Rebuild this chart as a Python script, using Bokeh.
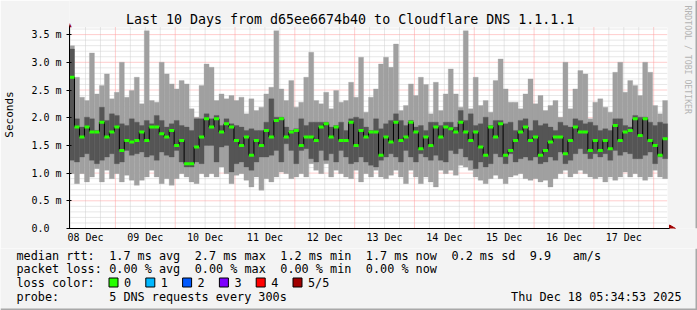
import math
from bokeh.plotting import figure
from bokeh.models import Range1d, FixedTicker, Label
from bokeh.layouts import column
from bokeh.embed import file_html
from bokeh.resources import INLINE
from bokeh.core.properties import value

MONO = "DejaVu Sans Mono"

# ---------------- data ----------------
# time axis in days since 08 Dec 00:00 ; graph covers 08 Dec 05:35 .. 18 Dec 05:35
t_start = 0.2325
t_end = 10.2325
bin_days = 2.0 / 24.0          # one smoke column = 2 hours
day_labels = ["08 Dec", "09 Dec", "10 Dec", "11 Dec", "12 Dec",
              "13 Dec", "14 Dec", "15 Dec", "16 Dec", "17 Dec"]
label_days = [0.5, 1.5, 2.5, 3.5, 4.5, 5.5, 6.5, 7.5, 8.5, 9.5]
midnight_days = [1, 2, 3, 4, 5, 6, 7, 8, 9, 10]

y_ticks = [0.0, 0.5, 1.0, 1.5, 2.0, 2.5, 3.0, 3.5]
y_tick_labels = ["0.0\u00a0\u00a0", "0.5 m", "1.0 m", "1.5 m", "2.0 m", "2.5 m", "3.0 m", "3.5 m"]

# RTT in ms per 2h column: max ping, upper inner ping, lower inner ping, min ping, median
rtt_max = [
    3.30, 2.73, 2.37, 2.31, 3.17, 2.43, 2.58, 2.79, 2.34, 2.46, 3.00, 2.37, 2.49, 2.73, 2.25, 3.57, 2.31, 2.28, 3.00, 2.79, 2.61, 2.52, 2.67, 2.61,
    2.16, 2.01, 2.58, 2.97, 2.91, 2.31, 2.43, 2.34, 2.40, 2.31, 2.37, 2.07, 2.34, 2.13, 2.19, 2.43, 2.55, 3.57, 2.52, 2.31, 2.67, 2.19, 2.28, 2.73,
    3.18, 2.31, 2.25, 2.46, 2.16, 2.49, 2.28, 2.31, 2.64, 2.37, 3.09, 2.10, 2.37, 2.52, 2.97, 3.09, 2.91, 3.33, 2.13, 2.22, 2.61, 2.40, 2.73, 2.60,
    2.07, 2.64, 2.13, 2.43, 2.88, 2.43, 2.19, 3.57, 2.16, 2.73, 2.22, 2.31, 2.10, 2.67, 3.06, 2.52, 2.28, 2.28, 2.16, 2.43, 2.70, 2.25, 2.40, 2.13,
    2.22, 2.31, 2.01, 3.00, 2.16, 2.52, 2.85, 2.79, 1.98, 2.28, 2.34, 2.19, 2.10, 2.82, 3.00, 2.46, 2.67, 2.58, 2.40, 3.00, 2.82, 2.22, 2.07, 2.31,
]
rtt_upper = [
    3.24, 1.98, 1.83, 2.01, 1.98, 1.77, 2.19, 1.95, 2.07, 2.04, 1.89, 1.86, 1.98, 1.92, 1.86, 1.95, 1.89, 2.04, 1.95, 1.83, 1.89, 1.95, 1.86, 1.83,
    1.77, 1.98, 1.98, 2.07, 1.98, 2.04, 1.86, 1.98, 1.89, 1.86, 1.83, 1.77, 1.80, 1.77, 1.77, 1.92, 2.34, 2.01, 2.01, 1.83, 1.77, 1.80, 1.98, 1.86,
    1.92, 1.92, 1.92, 1.92, 1.83, 1.86, 1.92, 1.77, 1.98, 2.01, 1.98, 1.83, 1.77, 1.98, 1.80, 1.89, 1.95, 2.07, 1.95, 1.86, 1.95, 1.83, 1.86, 1.77,
    1.92, 1.92, 1.86, 1.92, 1.92, 1.83, 2.13, 1.95, 2.07, 1.86, 1.89, 2.01, 1.86, 1.95, 1.95, 1.89, 1.92, 1.77, 1.95, 1.98, 1.77, 1.95, 1.86, 1.89,
    1.83, 1.77, 1.92, 1.86, 1.83, 1.98, 1.95, 1.89, 1.92, 1.86, 1.77, 1.80, 1.77, 1.98, 1.98, 1.86, 1.83, 2.04, 2.01, 2.01, 1.92, 1.86, 1.92, 1.89,
]
rtt_lower = [
    1.23, 1.20, 1.29, 1.35, 1.23, 1.17, 1.23, 1.29, 1.35, 1.17, 1.20, 1.41, 1.32, 1.35, 1.38, 1.29, 1.32, 1.23, 1.38, 1.32, 1.29, 1.41, 1.20, 1.11,
    1.11, 1.20, 1.17, 1.50, 1.50, 1.20, 1.47, 1.50, 1.02, 1.17, 1.20, 1.11, 1.05, 1.20, 1.29, 1.29, 1.32, 1.41, 1.20, 1.53, 1.41, 1.17, 1.41, 1.44,
    1.26, 1.20, 1.41, 1.23, 1.35, 1.20, 1.41, 1.29, 1.17, 1.20, 1.29, 1.20, 1.14, 1.11, 1.23, 1.29, 1.35, 1.29, 1.20, 1.41, 1.29, 1.20, 1.35, 1.29,
    1.23, 1.32, 1.23, 1.20, 1.41, 1.35, 1.44, 1.29, 1.23, 1.08, 1.20, 1.11, 1.17, 1.35, 1.29, 1.17, 1.35, 1.20, 1.26, 1.29, 1.23, 1.29, 1.17, 1.20,
    1.29, 1.23, 1.38, 1.17, 1.23, 1.35, 1.44, 1.35, 1.26, 1.35, 1.29, 1.35, 1.23, 1.41, 1.32, 1.38, 1.35, 1.26, 1.26, 1.32, 1.38, 1.17, 1.29, 1.26,
]
rtt_min = [
    0.99, 0.81, 0.99, 0.84, 0.93, 1.08, 0.84, 1.05, 0.90, 0.99, 0.84, 0.96, 0.87, 0.78, 0.87, 0.93, 1.05, 0.93, 0.81, 0.90, 0.78, 0.90, 0.99, 0.93,
    0.84, 0.81, 0.99, 0.93, 0.99, 0.93, 1.11, 0.99, 0.81, 0.96, 0.99, 0.87, 0.75, 0.93, 0.69, 0.90, 0.84, 0.93, 1.02, 0.99, 0.90, 0.93, 0.99, 0.93,
    1.17, 1.05, 0.99, 1.17, 0.93, 1.05, 0.99, 0.93, 0.90, 1.05, 0.84, 0.99, 0.93, 1.05, 0.93, 0.90, 0.96, 1.05, 0.93, 0.81, 1.05, 0.93, 0.81, 0.93,
    0.84, 0.75, 1.05, 0.99, 1.05, 0.96, 1.14, 1.11, 1.05, 0.93, 0.87, 0.81, 0.90, 0.96, 0.90, 0.81, 0.93, 0.96, 0.99, 0.90, 0.87, 0.90, 0.84, 0.87,
    0.75, 0.90, 0.99, 1.05, 0.93, 0.99, 1.05, 0.99, 0.93, 0.90, 0.93, 0.84, 0.93, 0.87, 0.93, 1.02, 0.93, 0.99, 0.93, 0.87, 0.93, 1.05, 0.93, 0.90,
]
rtt_median = [
    2.73, 1.83, 1.65, 1.83, 1.74, 1.74, 1.92, 1.65, 1.74, 1.83, 1.41, 1.59, 1.56, 1.59, 1.74, 1.59, 1.83, 1.83, 1.71, 1.65, 1.77, 1.50, 1.59, 1.17,
    1.17, 1.47, 1.65, 1.98, 1.83, 1.98, 1.74, 1.89, 1.83, 1.59, 1.50, 1.65, 1.32, 1.59, 1.50, 1.77, 1.65, 1.95, 1.98, 1.65, 1.74, 1.77, 1.50, 1.65,
    1.65, 1.59, 1.83, 1.89, 1.65, 1.83, 1.59, 1.59, 1.92, 1.50, 1.77, 1.65, 1.74, 1.74, 1.32, 1.65, 1.56, 1.92, 1.59, 1.65, 1.92, 1.74, 1.44, 1.65,
    1.50, 1.83, 1.65, 1.83, 1.80, 1.74, 1.92, 1.74, 1.59, 1.74, 1.47, 1.32, 1.83, 1.65, 1.89, 1.32, 1.41, 1.59, 1.74, 1.83, 1.59, 1.65, 1.32, 1.41,
    1.56, 1.65, 1.65, 1.35, 1.59, 1.83, 1.74, 1.74, 1.41, 1.59, 1.41, 1.59, 1.44, 1.86, 1.59, 1.74, 1.77, 1.98, 1.68, 1.98, 1.59, 1.50, 1.32, 1.62,
]

title_text = "Last 10 Days from d65ee6674b40 to Cloudflare DNS 1.1.1.1"
credit_text = "RRDTOOL / TOBI OETIKER"
rtt_stats = ["1.7 ms avg", "2.7 ms max", "1.2 ms min", "1.7 ms now", "0.2 ms sd", "9.9", "am/s"]
rtt_cols = [13, 25, 37, 49, 61, 72, 78]
loss_stats = ["0.00 % avg", "0.00 % max", "0.00 % min", "0.00 % now"]
loss_cols = [13, 25, 37, 49]
loss_colors = ["#26ff00", "#00b8ff", "#0059ff", "#7e00ff", "#ff0000", "#a10000"]
loss_labels = ["0", "1", "2", "3", "4", "5/5"]
probe_text = "5 DNS requests every 300s"
stamp_text = "Thu Dec 18 05:34:53 2025"

# ---------------- layout constants ----------------
W, H1, H2 = 697, 248, 62
PLOT_L, PLOT_B, PLOT_TOP_PX = 67, 228, 27
PX_DAY = 60.0
PX_MS = 55.4
BG = "#f3f3f3"


def dx(px):
    return t_start + (px - PLOT_L) / PX_DAY


def dy(py):
    return (PLOT_B - py) / PX_MS


plot_top = dy(PLOT_TOP_PX)

p = figure(width=W, height=H1,
           x_range=Range1d(t_start, dx(W)), y_range=Range1d(0, dy(0)),
           output_backend="svg", toolbar_location=None, tools="",
           min_border=0, min_border_left=PLOT_L, min_border_bottom=H1 - PLOT_B,
           background_fill_color=BG, border_fill_color=BG, outline_line_color=None)
p.xgrid.visible = False
p.ygrid.visible = False

# plot area
p.quad(left=[t_start], right=[t_end], bottom=[0], top=[plot_top], fill_color="white", line_color=None)

# grid
minor_h = [k / 10 for k in range(1, 37) if k % 5]
major_h = [k / 10 for k in range(5, 36, 5)]
minor_v = [q / 4 for q in range(1, 42) if q % 4 and t_start < q / 4 < t_end]
p.segment(x0=[t_start] * len(minor_h), y0=minor_h, x1=[t_end] * len(minor_h), y1=minor_h,
          line_color="#cfcfcf", line_dash="1 1", line_width=1)
p.segment(x0=minor_v, y0=[0] * len(minor_v), x1=minor_v, y1=[plot_top] * len(minor_v),
          line_color="#cfcfcf", line_dash="1 1", line_width=1)
p.segment(x0=[t_start] * len(major_h), y0=major_h, x1=[t_end] * len(major_h), y1=major_h,
          line_color="#ff9c9c", line_dash="1 1", line_width=1)
p.segment(x0=midnight_days, y0=[0] * len(midnight_days), x1=midnight_days, y1=[plot_top] * len(midnight_days),
          line_color="#ff9c9c", line_dash="1 1", line_width=1)

# smoke
n = len(rtt_median)
left = [t_start + i * bin_days for i in range(n)]
right = [l + bin_days for l in left]
p.quad(left=left, right=right, bottom=rtt_min, top=rtt_max,
       fill_color="#a0a0a0", line_color="#a0a0a0", line_width=0.3)
p.quad(left=left, right=right, bottom=rtt_lower, top=rtt_upper,
       fill_color="#555555", line_color="#555555", line_width=0.3)

# median line
p.segment(x0=right[:-1], y0=rtt_median[:-1], x1=right[:-1], y1=rtt_median[1:],
          line_color="#000000", line_width=1)
p.segment(x0=left, y0=rtt_median, x1=right, y1=rtt_median,
          line_color=loss_colors[0], line_width=3, line_cap="butt")

# axes
p.xaxis.ticker = FixedTicker(ticks=label_days, minor_ticks=[])
p.xaxis.major_label_overrides = {d: s for d, s in zip(label_days, day_labels)}
p.xaxis.major_tick_line_color = None
p.xaxis.major_tick_in = 0
p.xaxis.major_tick_out = 0
p.xaxis.minor_tick_line_color = None
p.xaxis.major_label_standoff = 3
p.xaxis.axis_line_color = "black"
p.xaxis.bounds = (t_start, dx(669))
p.xaxis.major_label_text_font = MONO
p.xaxis.major_label_text_font_size = "10px"
p.xaxis.major_label_text_color = "black"

p.yaxis.ticker = FixedTicker(ticks=y_ticks, minor_ticks=[])
p.yaxis.major_label_overrides = {v: s for v, s in zip(y_ticks, y_tick_labels)}
p.yaxis.major_tick_in = 2
p.yaxis.major_tick_out = 3
p.yaxis.major_tick_line_color = "black"
p.yaxis.minor_tick_line_color = None
p.yaxis.major_label_standoff = 5
p.yaxis.axis_line_color = "black"
p.yaxis.bounds = (0, dy(25))
p.yaxis.major_label_text_font = MONO
p.yaxis.major_label_text_font_size = "10px"
p.yaxis.major_label_text_color = "black"
p.yaxis.axis_label = "Seconds"
p.yaxis.axis_label_text_font = MONO
p.yaxis.axis_label_text_font_size = "11px"
p.yaxis.axis_label_text_font_style = "normal"
p.yaxis.axis_label_text_color = "black"
p.yaxis.axis_label_standoff = 12

# arrows
p.scatter(x=[dx(671)], y=[0], marker="triangle", size=7, angle=-math.pi / 2,
          fill_color="#a00000", line_color="#a00000")
p.add_layout(Label(x=t_start, y=dy(24), text="\u25b2", text_align="center", text_baseline="middle",
                   text_color="#a00000", text_font=MONO, text_font_size="7px"))

# title and credit
p.text(x=[dx(348.5)], y=[dy(19)], text=[title_text], text_align="center", text_baseline="middle",
       text_font=value(MONO), text_font_size="13.3px", text_color="black")
p.text(x=[dx(687.5)], y=[dy(5)], text=[credit_text], angle=-math.pi / 2, text_align="left",
       text_baseline="middle", text_font=value(MONO), text_font_size="8.2px", text_color="#b4b4b4")

# right border
p.quad(left=[dx(695)], right=[dx(697)], bottom=[0], top=[dy(0)], fill_color="#a8a8a8", line_color=None)

# ---------------- legend panel ----------------
p2 = figure(width=W, height=H2, x_range=Range1d(0, W), y_range=Range1d(H1 + H2, H1),
            output_backend="svg", toolbar_location=None, tools="",
            min_border=0, x_axis_type=None, y_axis_type=None,
            background_fill_color=BG, border_fill_color=BG, outline_line_color=None)
p2.xgrid.visible = False
p2.ygrid.visible = False

# keep each panel's own frame (no frame alignment across the column)
for fig in (p, p2):
    if "frame_align" in fig.properties():
        fig.frame_align = False

CH = 7.13
X0 = 16
rows_y = [255, 268.5, 282, 296]
tx, ty, tt = [], [], []


def put(col, row, s):
    tx.append(X0 + col * CH)
    ty.append(rows_y[row])
    tt.append(s)


put(0, 0, "median rtt:")
for c, s in zip(rtt_cols, rtt_stats):
    put(c, 0, s)
put(0, 1, "packet loss:")
for c, s in zip(loss_cols, loss_stats):
    put(c, 1, s)
put(0, 2, "loss color:")
put(0, 3, "probe:")
put(13, 3, probe_text)

sq_left = [108.5 + k * 36.8 for k in range(len(loss_colors))]
for xl, s in zip(sq_left, loss_labels):
    tx.append(xl + 15)
    ty.append(rows_y[2])
    tt.append(s)

p2.text(x=tx, y=ty, text=tt, text_baseline="middle", text_align="left",
        text_font=value(MONO), text_font_size="11.8px", text_color="black")
p2.text(x=[681], y=[rows_y[3]], text=[stamp_text], text_baseline="middle", text_align="right",
        text_font=value(MONO), text_font_size="11.8px", text_color="black")
p2.quad(left=sq_left, right=[x + 9 for x in sq_left], top=[277.5] * len(sq_left), bottom=[286.5] * len(sq_left),
        fill_color=loss_colors, line_color="black", line_width=1)

# borders
p2.quad(left=[0], right=[W], top=[H1 + H2 - 2], bottom=[H1 + H2], fill_color="#a8a8a8", line_color=None)
p2.quad(left=[W - 2], right=[W], top=[H1], bottom=[H1 + H2], fill_color="#a8a8a8", line_color=None)

layout = column(p, p2)
open("out.html", "w").write(file_html(layout, INLINE))
